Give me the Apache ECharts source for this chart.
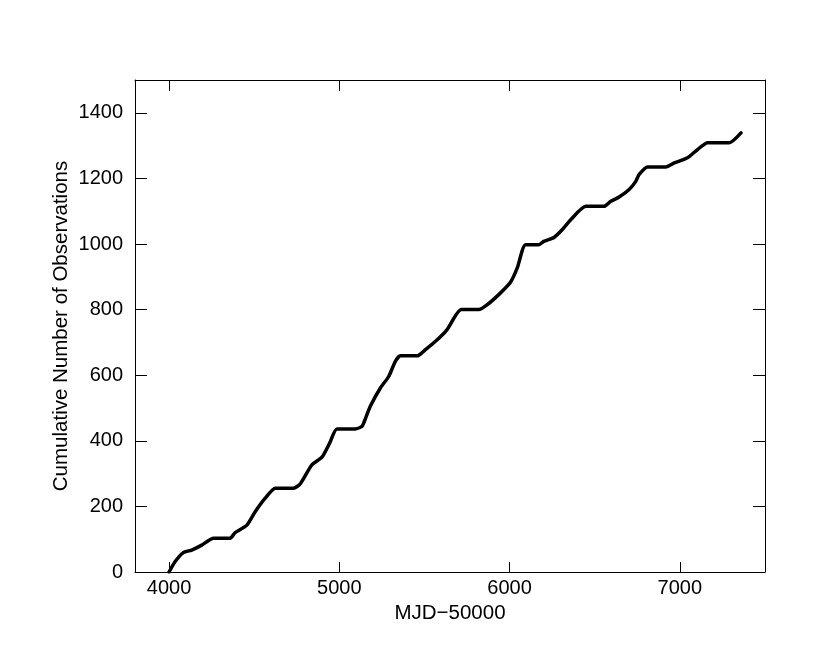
<!DOCTYPE html>
<html>
<head>
<meta charset="utf-8">
<script src="https://cdn.jsdelivr.net/npm/echarts@6/dist/echarts.min.js"></script>
<style>
html,body{margin:0;padding:0;background:#fff;}
#c{width:830px;height:664px;}
</style>
</head>
<body>
<div id="c"></div>
<script>
var mjd = [4000, 4035, 4084, 4133, 4192, 4261, 4359, 4388, 4457, 4506, 4565, 4624, 4731, 4771, 4839, 4898, 4943, 4986, 5094, 5133, 5143, 5182, 5241, 5290, 5329, 5359, 5457, 5506, 5575, 5633, 5716, 5819, 5869, 5947, 6006, 6045, 6094, 6172, 6201, 6261, 6310, 6359, 6447, 6555, 6594, 6643, 6702, 6741, 6761, 6810, 6918, 6967, 7045, 7104, 7163, 7290, 7359];
var cumObs = [0, 31, 59, 67, 82, 103, 103, 120, 143, 184, 225, 255, 255, 269, 327, 350, 393, 436, 436, 444, 454, 505, 561, 596, 642, 659, 659, 678, 708, 739, 800, 800, 815, 851, 884, 927, 998, 998, 1008, 1020, 1044, 1074, 1115, 1115, 1130, 1143, 1166, 1191, 1212, 1235, 1235, 1247, 1263, 1288, 1309, 1309, 1339];
var xTicks = [4000, 5000, 6000, 7000];
var yTicks = [0, 200, 400, 600, 800, 1000, 1200, 1400];

var pts = mjd.map(function (x, i) { return [x, cumObs[i]]; });
var font = 'Liberation Sans, Arial, Helvetica, sans-serif';
var plain = function (v) { return String(v); };
var chart = echarts.init(document.getElementById('c'), null, {renderer: 'canvas'});
var axLine = {show: true, onZero: false, lineStyle: {color: '#000', width: 1}};
chart.setOption({
  animation: false,
  backgroundColor: '#fff',
  grid: {left: 135, right: 65, top: 80, bottom: 92, containLabel: false},
  xAxis: [{
    type: 'value', min: 3800, max: 7500, position: 'bottom',
    name: 'MJD\u221250000', nameLocation: 'middle', nameGap: 30,
    nameTextStyle: {fontFamily: font, fontSize: 20.5, color: '#000'},
    axisLine: axLine,
    axisTick: {show: true, inside: true, length: 10, customValues: xTicks, lineStyle: {color: '#000'}},
    axisLabel: {show: true, customValues: xTicks, formatter: plain, fontFamily: font, fontSize: 20, color: '#000', margin: 6},
    splitLine: {show: false}
  }, {
    type: 'value', min: 3800, max: 7500, position: 'top',
    axisLine: axLine,
    axisTick: {show: true, inside: true, length: 11, customValues: xTicks, lineStyle: {color: '#000'}},
    axisLabel: {show: false},
    splitLine: {show: false}
  }],
  yAxis: [{
    type: 'value', min: 0, max: 1500, position: 'left',
    name: 'Cumulative Number of Observations', nameLocation: 'middle', nameGap: 63, nameRotate: 90,
    nameMoveOverlap: false,
    nameTextStyle: {fontFamily: font, fontSize: 20.5, color: '#000'},
    axisLine: axLine,
    axisTick: {show: true, inside: true, length: 12, customValues: yTicks, lineStyle: {color: '#000'}},
    axisLabel: {show: true, customValues: yTicks, formatter: plain, fontFamily: font, fontSize: 20, color: '#000', margin: 12},
    splitLine: {show: false}
  }, {
    type: 'value', min: 0, max: 1500, position: 'right',
    axisLine: axLine,
    axisTick: {show: true, inside: true, length: 12, customValues: yTicks, lineStyle: {color: '#000'}},
    axisLabel: {show: false},
    splitLine: {show: false}
  }],
  series: [{
    type: 'line', xAxisIndex: 0, yAxisIndex: 0,
    data: pts, showSymbol: false, smooth: 0.2,
    lineStyle: {color: '#000', width: 3.5, cap: 'round', join: 'round'}
  }]
});
</script>
</body>
</html>
